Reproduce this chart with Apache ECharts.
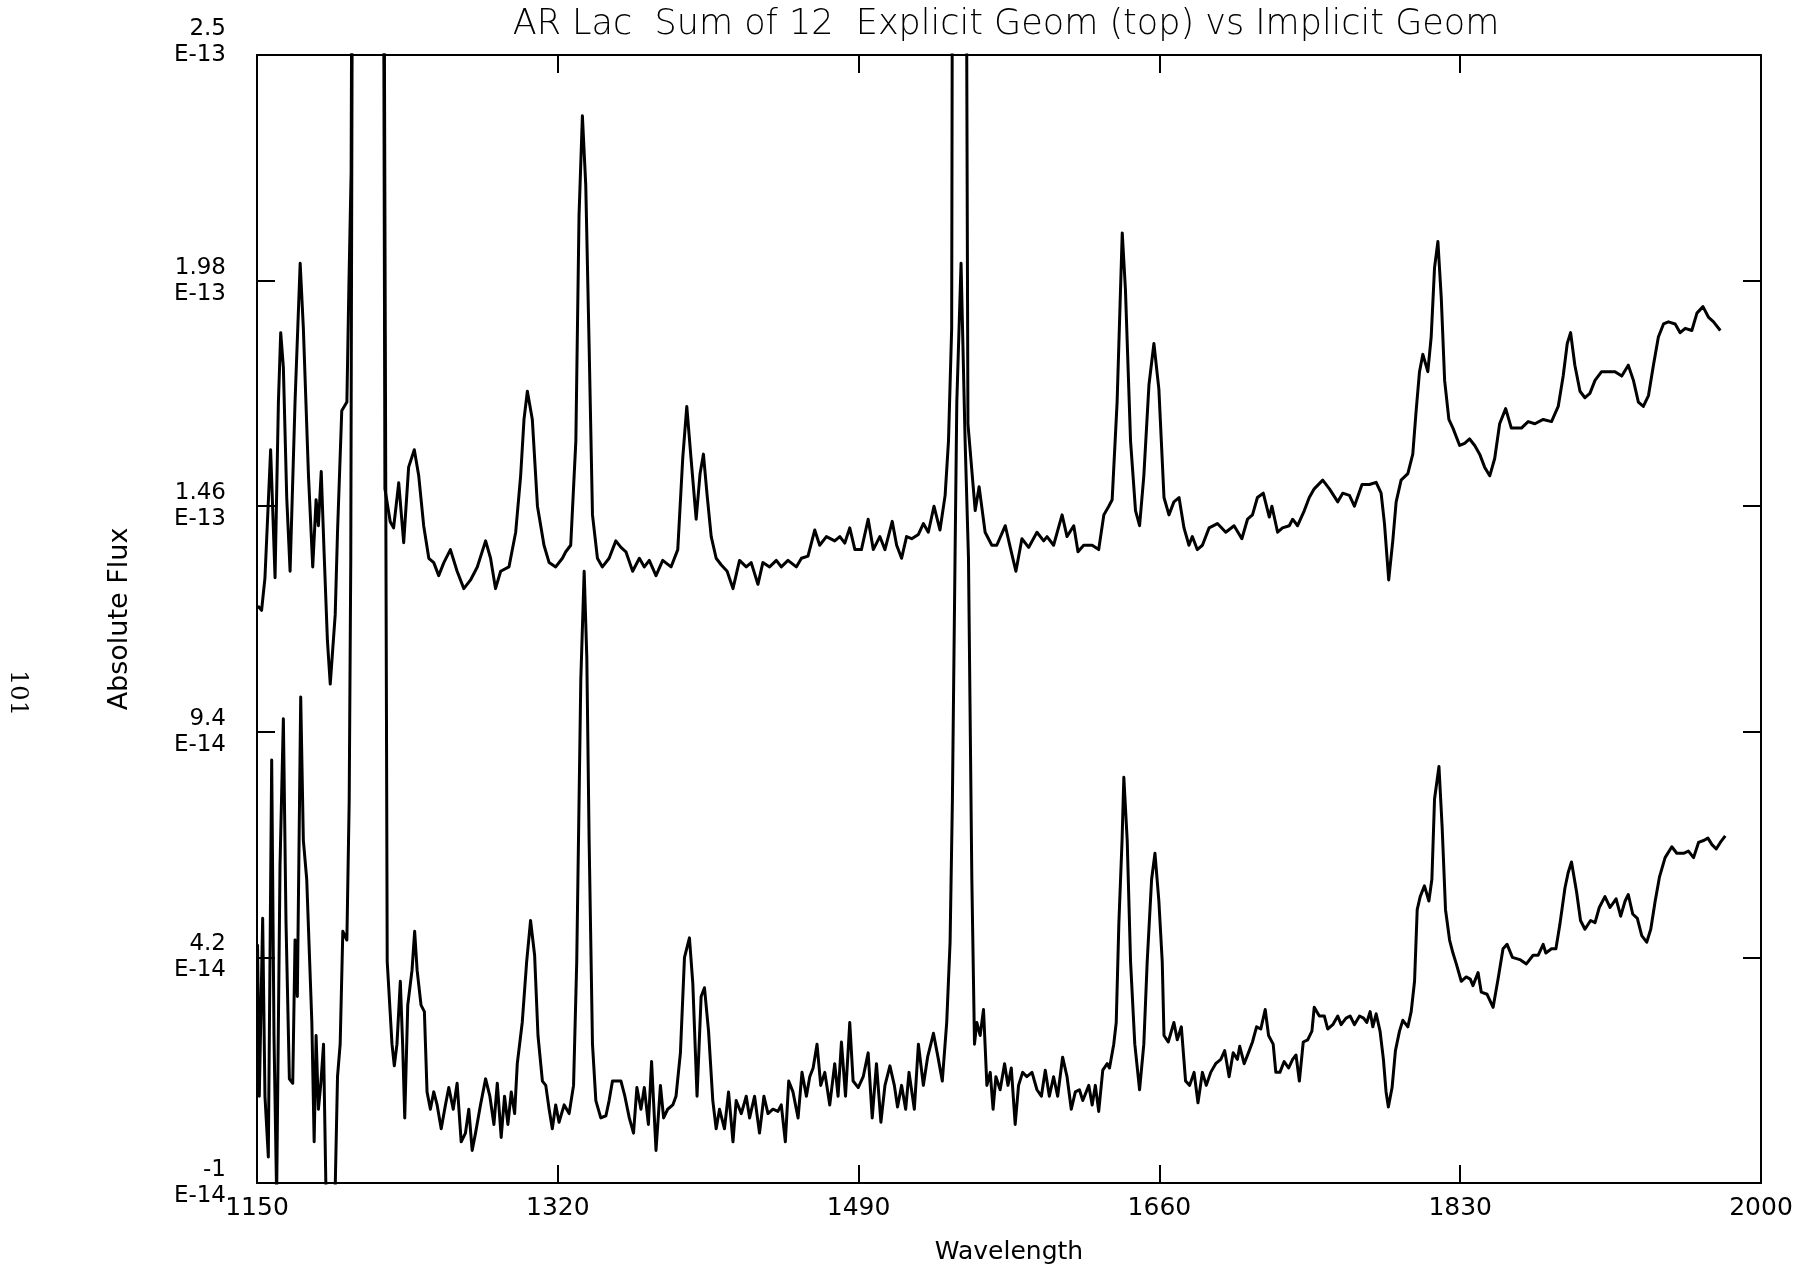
<!DOCTYPE html>
<html>
<head>
<meta charset="utf-8">
<title>AR Lac Sum of 12</title>
<script src="https://cdn.jsdelivr.net/npm/echarts@6/dist/echarts.min.js"></script>
<style>
html, body { margin: 0; padding: 0; background: #fff; }
#chart { width: 1797px; height: 1270px; }
</style>
</head>
<body>
<div id="chart"></div>
<script>
// wavelength, flux (flux in units of 1E-14); values above 25 run off the top of the frame
const explicitGeom = [
  [1150.5,12.3],[1152.6,12.2],[1154.5,12.95],[1157.7,15.9],[1158.9,14.5],[1160.2,12.95],[1162.1,17.0],[1163.4,18.6],
  [1164.9,17.8],[1166.8,14.8],[1168.7,13.1],[1171.5,17.0],[1174.4,20.2],[1176.2,18.7],[1179.1,15.3],[1181.5,13.2],
  [1183.4,14.75],[1184.7,14.15],[1186.3,15.4],[1187.9,13.55],[1189.8,11.5],[1191.4,10.5],[1194.2,12.1],[1195.5,14.0],
  [1197.9,16.8],[1200.8,17.0],[1201.9,19.6],[1203.2,22.3],[1205,45],[1220.5,45],[1222.3,15.0],[1225.3,14.24],
  [1227.2,14.1],[1230.1,15.14],[1232.9,13.76],[1235.7,15.5],[1238.9,15.9],[1241.4,15.3],[1244.2,14.15],[1247.1,13.4],
  [1249.9,13.3],[1252.7,13.0],[1255.6,13.3],[1259.3,13.6],[1263.1,13.1],[1266.9,12.7],[1270.7,12.9],[1274.5,13.2],
  [1279.2,13.8],[1282.0,13.4],[1284.8,12.7],[1287.7,13.1],[1292.4,13.2],[1296.2,14.0],[1299.0,15.3],[1300.9,16.6],
  [1302.8,17.25],[1305.6,16.6],[1308.5,14.6],[1312.2,13.7],[1315.1,13.3],[1318.8,13.2],[1322.6,13.4],[1324.5,13.55],
  [1327.3,13.7],[1330.2,16.1],[1332.0,21.3],[1333.9,23.6],[1335.8,22.0],[1337.7,18.3],[1339.6,14.4],[1342.4,13.4],
  [1345.2,13.2],[1349.0,13.4],[1352.8,13.8],[1355.7,13.65],[1358.5,13.55],[1362.3,13.1],[1366.1,13.4],[1368.9,13.2],
  [1371.7,13.35],[1375.5,13.0],[1379.3,13.35],[1384.0,13.2],[1387.8,13.6],[1390.6,15.7],[1392.9,16.9],[1395.3,15.7],
  [1398.2,14.3],[1400.4,15.35],[1402.3,15.8],[1404.4,14.85],[1406.7,13.9],[1409.5,13.4],[1412.3,13.25],[1415.7,13.1],
  [1419.0,12.7],[1422.7,13.35],[1426.5,13.2],[1429.3,13.3],[1433.1,12.8],[1435.9,13.3],[1439.7,13.2],[1443.5,13.35],
  [1446.3,13.2],[1450.1,13.35],[1454.8,13.2],[1457.7,13.4],[1461.4,13.45],[1465.2,14.05],[1468.0,13.7],[1471.8,13.9],
  [1476.5,13.8],[1479.4,13.9],[1482.2,13.75],[1485.0,14.1],[1487.9,13.6],[1491.6,13.6],[1495.4,14.3],[1498.3,13.6],
  [1502.0,13.9],[1504.9,13.6],[1509.0,14.25],[1511.5,13.7],[1514.3,13.4],[1517.1,13.9],[1520.0,13.85],[1523.8,13.95],
  [1526.6,14.2],[1529.4,14.0],[1532.6,14.6],[1536.0,14.05],[1538.9,14.85],[1540.8,16.1],[1542.6,18.7],[1543.8,45],
  [1549.5,45],[1551.8,16.5],[1555.9,14.5],[1558.1,15.05],[1561.5,14.0],[1565.3,13.7],[1568.1,13.7],[1572.9,14.15],
  [1575.7,13.65],[1578.9,13.1],[1582.3,13.85],[1586.1,13.65],[1590.8,14.0],[1594.6,13.8],[1596.5,13.9],[1600.2,13.7],
  [1605.0,14.4],[1607.8,13.9],[1611.6,14.15],[1614.0,13.55],[1617.2,13.7],[1622.0,13.7],[1625.7,13.6],[1628.6,14.4],
  [1631.4,14.6],[1633.3,14.75],[1636.1,17.0],[1639.0,20.9],[1640.8,19.6],[1643.7,16.1],[1646.5,14.5],[1648.8,14.15],
  [1651.2,15.3],[1654.1,17.4],[1656.9,18.35],[1659.7,17.3],[1662.6,14.8],[1665.4,14.4],[1668.2,14.7],[1671.1,14.8],
  [1673.9,14.1],[1676.7,13.7],[1678.6,13.9],[1681.4,13.6],[1684.3,13.7],[1688.1,14.1],[1692.8,14.2],[1697.5,14.0],
  [1702.2,14.15],[1706.6,13.85],[1709.8,14.3],[1712.6,14.4],[1715.4,14.8],[1718.7,14.9],[1722.1,14.35],[1723.6,14.6],
  [1726.8,14.0],[1729.6,14.1],[1733.4,14.15],[1735.3,14.3],[1738.1,14.15],[1741.9,14.5],[1744.7,14.8],[1747.5,15.0],
  [1752.3,15.2],[1756.1,15.0],[1760.8,14.7],[1763.6,14.9],[1767.4,14.85],[1770.2,14.6],[1774.5,15.1],[1778.7,15.1],
  [1782.5,15.15],[1785.3,14.9],[1787.2,14.2],[1789.6,12.9],[1791.9,13.8],[1793.8,14.7],[1796.6,15.2],[1800.4,15.35],
  [1803.2,15.8],[1805.1,16.8],[1807.0,17.7],[1808.9,18.1],[1811.7,17.7],[1813.6,18.5],[1815.5,20.1],[1817.4,20.7],
  [1819.3,19.4],[1821.2,17.5],[1823.6,16.6],[1825.9,16.4],[1829.7,16.0],[1832.5,16.05],[1835.3,16.15],[1838.2,16.0],
  [1841.0,15.8],[1843.8,15.5],[1846.7,15.3],[1849.5,15.7],[1852.3,16.5],[1855.7,16.85],[1858.9,16.4],[1861.8,16.4],
  [1864.6,16.4],[1868.4,16.55],[1872.2,16.5],[1876.9,16.6],[1881.6,16.55],[1885.4,16.9],[1888.2,17.6],[1890.5,18.35],
  [1892.4,18.6],[1894.8,17.85],[1897.7,17.25],[1900.5,17.1],[1903.3,17.2],[1906.2,17.5],[1909.9,17.7],[1913.7,17.7],
  [1917.5,17.7],[1921.3,17.6],[1925.0,17.85],[1927.9,17.5],[1930.7,17.0],[1933.5,16.9],[1936.4,17.15],[1939.2,17.85],
  [1942.0,18.5],[1944.9,18.8],[1947.7,18.85],[1951.5,18.8],[1954.3,18.6],[1957.2,18.7],[1960.9,18.65],[1963.8,19.05],
  [1967.2,19.2],[1970.4,18.95],[1973.2,18.85],[1977.0,18.65]
]

const implicitGeom = [
  [1150.3,4.5],[1151.3,1.0],[1153.2,5.1],[1154.5,1.0],[1156.4,-0.4],[1158.3,8.75],[1159.6,2.4],[1161.1,-1.3],
  [1163.0,6.3],[1164.9,9.7],[1166.4,5.0],[1168.3,1.4],[1170.2,1.3],[1171.5,4.6],[1172.8,3.3],[1174.7,10.2],
  [1176.2,6.9],[1178.1,6.0],[1181.0,2.7],[1182.3,-0.05],[1183.4,2.4],[1184.7,0.7],[1186.1,1.3],[1187.6,2.2],
  [1189.1,-1.5],[1194.0,-1.5],[1195.5,1.45],[1197.0,2.2],[1198.5,4.8],[1200.8,4.6],[1202.1,7.8],[1203.0,13.4],
  [1205,45],[1220.5,45],[1223.6,4.1],[1226.3,2.2],[1227.6,1.7],[1229.1,2.2],[1231.0,3.65],[1232.3,2.2],
  [1233.5,0.5],[1235.2,3.1],[1237.6,3.9],[1239.1,4.8],[1240.5,3.9],[1242.7,3.1],[1244.6,2.95],[1246.1,1.1],
  [1248.0,0.7],[1249.9,1.1],[1251.8,0.8],[1254.1,0.25],[1256.5,0.8],[1258.4,1.2],[1260.9,0.7],[1263.1,1.3],
  [1265.4,-0.05],[1267.8,0.15],[1269.7,0.7],[1271.6,-0.25],[1273.5,0.15],[1276.3,0.8],[1279.2,1.4],[1281.6,1.0],
  [1283.9,0.35],[1285.8,1.3],[1288.0,0.05],[1289.9,1.0],[1291.8,0.35],[1293.7,1.1],[1295.6,0.6],[1297.1,1.75],
  [1299.9,2.7],[1302.4,4.1],[1304.6,5.05],[1306.9,4.25],[1308.8,2.4],[1311.3,1.35],[1313.2,1.25],[1315.1,0.7],
  [1316.9,0.25],[1318.8,0.8],[1320.7,0.4],[1323.6,0.8],[1326.4,0.6],[1328.9,1.25],[1330.7,4.1],[1333.0,10.6],
  [1334.9,13.1],[1336.4,11.1],[1337.7,6.9],[1339.6,2.2],[1341.5,0.9],[1344.3,0.5],[1347.2,0.55],[1349.0,0.9],
  [1350.9,1.35],[1353.7,1.35],[1355.7,1.35],[1357.9,1.0],[1360.4,0.5],[1362.8,0.15],[1364.7,1.2],[1367.0,0.7],
  [1368.9,1.2],[1371.2,0.35],[1373.0,1.8],[1375.5,-0.25],[1378.0,1.25],[1379.8,0.5],[1382.1,0.7],[1385.0,0.8],
  [1386.8,1.0],[1389.3,2.0],[1391.6,4.2],[1394.4,4.65],[1396.3,3.6],[1398.7,1.0],[1401.0,3.3],[1402.9,3.5],
  [1405.2,2.5],[1407.6,0.9],[1409.5,0.25],[1411.4,0.7],[1414.2,0.25],[1416.5,1.1],[1419.0,-0.05],[1420.8,0.9],
  [1423.7,0.6],[1426.5,1.0],[1428.4,0.5],[1431.2,1.0],[1434.0,0.15],[1436.5,1.0],[1438.8,0.6],[1441.6,0.7],
  [1444.4,0.65],[1446.3,0.8],[1448.6,-0.05],[1450.5,1.35],[1452.9,1.1],[1455.8,0.5],[1458.0,1.55],[1460.5,1.0],
  [1462.4,1.45],[1464.3,1.65],[1466.5,2.2],[1468.6,1.25],[1470.9,1.55],[1473.7,0.8],[1476.5,1.75],[1478.4,1.0],
  [1480.3,2.25],[1482.6,1.0],[1485.0,2.7],[1486.9,1.35],[1489.8,1.2],[1492.6,1.45],[1495.4,2.0],[1497.7,0.5],
  [1500.1,1.75],[1502.6,0.4],[1504.9,1.25],[1507.7,1.7],[1510.2,1.25],[1512.0,0.75],[1514.3,1.25],[1516.6,0.7],
  [1518.5,1.55],[1521.5,0.7],[1523.8,2.2],[1526.6,1.25],[1529.0,1.9],[1532.3,2.45],[1535.1,1.85],[1537.3,1.35],
  [1539.8,2.7],[1541.7,4.55],[1543.0,7.8],[1544.5,13.4],[1545.5,17.0],[1547.9,20.2],[1550.2,16.1],[1552.1,13.4],
  [1554.0,6.0],[1555.5,2.2],[1556.8,2.7],[1558.7,2.4],[1560.6,3.0],[1562.5,1.25],[1564.4,1.55],[1566.0,0.7],
  [1567.6,1.45],[1570.0,1.15],[1572.5,1.75],[1574.4,1.25],[1576.3,1.65],[1578.5,0.35],[1580.4,1.25],[1582.7,1.55],
  [1585.1,1.45],[1588.0,1.55],[1590.8,1.15],[1593.3,1.0],[1595.5,1.6],[1597.8,1.0],[1600.2,1.45],[1602.5,1.0],
  [1605.3,1.9],[1607.8,1.45],[1610.2,0.7],[1612.5,1.1],[1614.8,1.15],[1616.7,0.9],[1620.1,1.25],[1622.0,0.8],
  [1623.8,1.25],[1625.7,0.65],[1628.0,1.6],[1630.5,1.75],[1631.8,1.65],[1634.2,2.2],[1635.6,2.7],[1637.1,5.0],
  [1638.9,6.9],[1639.9,8.35],[1641.8,6.9],[1643.7,4.1],[1646.1,2.2],[1648.8,1.15],[1651.2,2.2],[1653.1,4.1],
  [1655.6,6.0],[1657.5,6.6],[1659.7,5.5],[1661.6,4.1],[1662.6,2.4],[1665.0,2.25],[1668.2,2.7],[1670.1,2.3],
  [1672.4,2.6],[1674.8,1.35],[1677.1,1.25],[1679.6,1.55],[1681.8,0.85],[1684.3,1.55],[1686.5,1.25],[1689.0,1.55],
  [1691.8,1.75],[1694.7,1.85],[1696.9,2.05],[1699.4,1.45],[1701.7,2.0],[1704.1,1.85],[1705.4,2.15],[1707.9,1.75],
  [1710.3,2.0],[1712.6,2.25],[1714.9,2.6],[1717.3,2.55],[1719.8,3.0],[1721.7,2.4],[1724.3,2.2],[1725.8,1.55],
  [1728.1,1.55],[1730.5,1.8],[1733.0,1.65],[1735.3,1.85],[1737.2,1.95],[1739.1,1.35],[1741.3,2.25],[1743.8,2.3],
  [1746.2,2.5],[1747.5,3.05],[1750.4,2.85],[1753.2,2.85],[1755.1,2.55],[1758.0,2.65],[1760.8,2.85],[1762.7,2.65],
  [1765.5,2.8],[1767.8,2.85],[1770.2,2.65],[1773.1,2.85],[1775.4,2.8],[1777.2,2.7],[1779.1,2.95],[1780.6,2.6],
  [1782.5,2.9],[1784.7,2.5],[1786.6,1.85],[1788.1,1.1],[1789.4,0.75],[1791.5,1.2],[1793.4,2.05],[1795.7,2.5],
  [1797.6,2.75],[1800.4,2.6],[1802.3,2.95],[1804.2,3.65],[1805.7,5.3],[1807.4,5.6],[1809.8,5.85],[1812.3,5.5],
  [1814.0,6.0],[1815.5,7.85],[1818.0,8.6],[1819.8,7.2],[1821.7,5.3],[1824.0,4.6],[1825.9,4.3],[1827.8,4.05],
  [1830.6,3.65],[1833.4,3.75],[1835.7,3.7],[1837.2,3.55],[1840.1,3.85],[1841.9,3.4],[1845.2,3.35],[1848.6,3.05],
  [1851.4,3.7],[1854.2,4.4],[1856.5,4.5],[1859.5,4.2],[1863.7,4.15],[1867.4,4.05],[1871.2,4.25],[1874.1,4.25],
  [1876.9,4.5],[1878.4,4.3],[1881.6,4.4],[1884.1,4.4],[1886.3,4.95],[1889.2,5.8],[1891.0,6.15],[1892.9,6.4],
  [1895.8,5.7],[1898.0,5.05],[1900.5,4.85],[1903.7,5.05],[1906.2,5.0],[1908.6,5.35],[1911.8,5.6],[1914.7,5.35],
  [1918.1,5.55],[1920.7,5.15],[1923.2,5.5],[1925.0,5.65],[1927.5,5.2],[1930.1,5.1],[1932.6,4.7],[1935.4,4.55],
  [1937.7,4.85],[1940.2,5.5],[1942.6,6.05],[1945.8,6.5],[1949.6,6.75],[1952.4,6.6],[1956.2,6.6],[1959.0,6.65],
  [1961.9,6.5],[1964.7,6.85],[1967.9,6.9],[1970.0,6.95],[1972.3,6.8],[1974.7,6.7],[1977.0,6.85],[1979.8,7.0]
]

const xMin = 1150, xMax = 2000, xStep = 170
const yMin = -1, yMax = 25, yStep = 5.2
// the top label sits higher than the rest, hence the trailing empty line
const yTickLabels = ['-1\nE-14', '4.2\nE-14', '9.4\nE-14', '1.46\nE-13', '1.98\nE-13', '2.5\nE-13\n']

const black = '#000'
const labelFont = '"DejaVu Sans", sans-serif'

const frameLine = { onZero: false, lineStyle: { color: black, width: 2 } }
const frameTick = { inside: true, length: 18, lineStyle: { color: black, width: 2 } }

const chart = echarts.init(document.getElementById('chart'))

chart.setOption({
  animation: false,
  backgroundColor: '#fff',
  grid: { left: 257, right: 36, top: 55, bottom: 85 },
  graphic: [
    {
      type: 'text',
      x: 1006,
      y: 25,
      style: {
        text: 'AR Lac  Sum of 12  Explicit Geom (top) vs Implicit Geom',
        font: '300 35px "DejaVu Sans", sans-serif',
        fill: black,
        align: 'center',
        verticalAlign: 'middle'
      }
    },
    {
      type: 'text',
      x: 17,
      y: 693,
      rotation: -Math.PI / 2,
      style: {
        text: '101',
        font: '24px "DejaVu Serif", serif',
        fill: black,
        align: 'center',
        verticalAlign: 'middle'
      }
    }
  ],
  xAxis: [
    {
      type: 'value',
      position: 'bottom',
      min: xMin,
      max: xMax,
      interval: xStep,
      axisLine: frameLine,
      axisTick: frameTick,
      splitLine: { show: false },
      axisLabel: {
        color: black,
        fontFamily: labelFont,
        fontSize: 25,
        margin: 13,
        formatter: function (v) { return String(v) }
      },
      name: 'Wavelength',
      nameLocation: 'middle',
      nameGap: 57,
      nameTextStyle: { color: black, fontFamily: labelFont, fontSize: 25 }
    },
    {
      type: 'value',
      position: 'top',
      min: xMin,
      max: xMax,
      interval: xStep,
      axisLine: frameLine,
      axisTick: frameTick,
      splitLine: { show: false },
      axisLabel: { show: false }
    }
  ],
  yAxis: [
    {
      type: 'value',
      position: 'left',
      min: yMin,
      max: yMax,
      interval: yStep,
      axisLine: frameLine,
      axisTick: frameTick,
      splitLine: { show: false },
      axisLabel: {
        color: black,
        fontFamily: labelFont,
        fontSize: 23,
        lineHeight: 26,
        align: 'right',
        verticalAlign: 'middle',
        padding: [0, 0, 8, 0],
        margin: 31,
        formatter: function (v) {
          return yTickLabels[Math.round((v - yMin) / yStep)]
        }
      },
      name: 'Absolute Flux',
      nameLocation: 'middle',
      nameGap: 124,
      nameTextStyle: { color: black, fontFamily: labelFont, fontSize: 27 }
    },
    {
      type: 'value',
      position: 'right',
      min: yMin,
      max: yMax,
      interval: yStep,
      axisLine: frameLine,
      axisTick: frameTick,
      splitLine: { show: false },
      axisLabel: { show: false }
    }
  ],
  series: [
    {
      name: 'Explicit Geom',
      type: 'line',
      data: explicitGeom,
      showSymbol: false,
      clip: true,
      lineStyle: { color: black, width: 3, join: 'round' }
    },
    {
      name: 'Implicit Geom',
      type: 'line',
      data: implicitGeom,
      showSymbol: false,
      clip: true,
      lineStyle: { color: black, width: 3, join: 'round' }
    }
  ]
})
</script>
</body>
</html>
